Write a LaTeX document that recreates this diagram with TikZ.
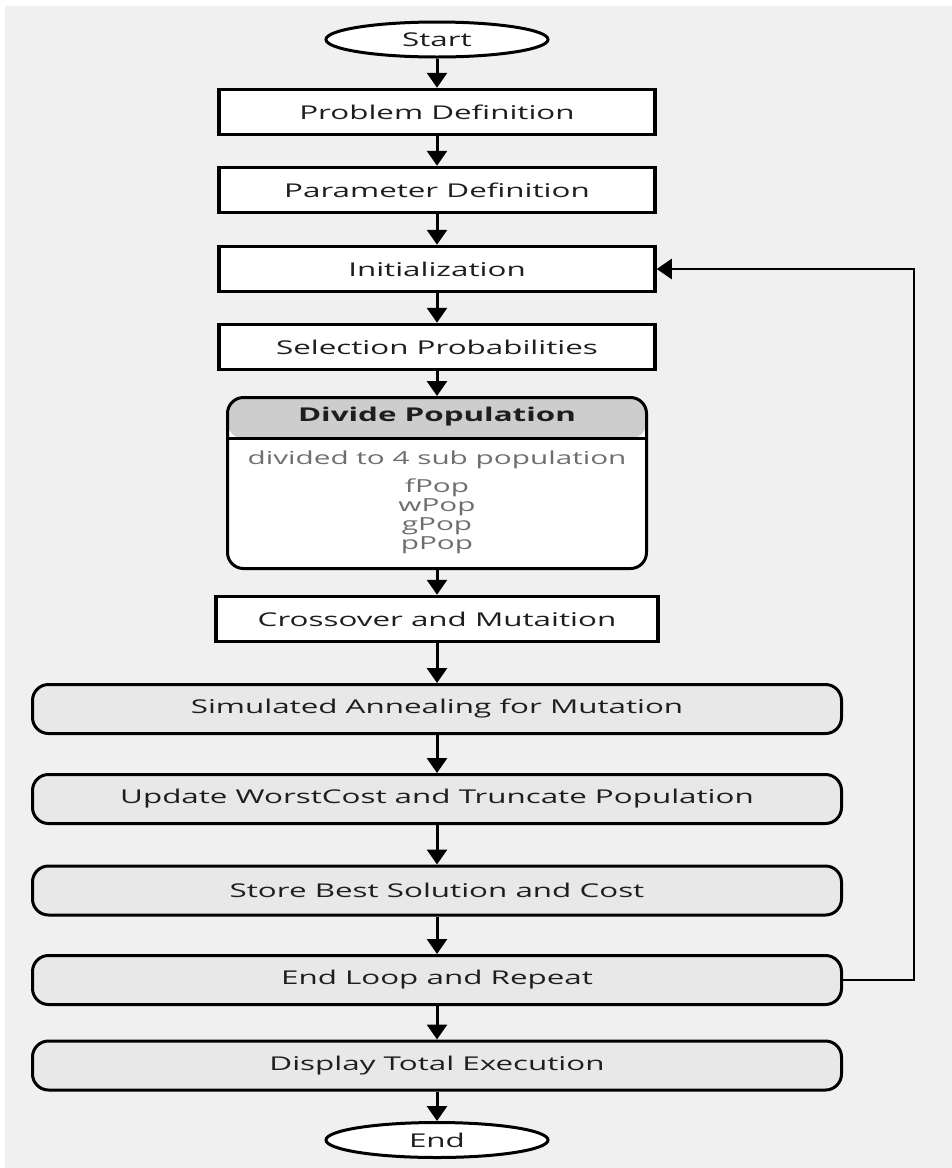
\documentclass[tikz,border=0pt]{standalone}
\usepackage{fontspec}
\setmainfont[FakeStretch=1.65]{Open Sans}
\usetikzlibrary{shapes.geometric, arrows.meta}
\definecolor{bggray}{HTML}{F0F0F0}
\definecolor{boxgray}{HTML}{E8E8E8}
\definecolor{headgray}{HTML}{CDCDCD}
\definecolor{txtgray}{HTML}{1E1E1E}
\definecolor{subgray}{HTML}{6E6E6E}
\tikzstyle{terminal} = [ellipse, minimum width = 222pt, minimum height = 35pt, text centered, draw = black, line width = 3pt, fill = white, text = txtgray, font = \fontsize{19}{21}\selectfont]
\tikzstyle{process} = [rectangle, minimum width = 436pt, minimum height = 45pt, text centered, draw = black, line width = 3.5pt, fill = white, text = txtgray, font = \fontsize{19}{21}\selectfont]
\tikzstyle{stage} = [rectangle, rounded corners = 16pt, minimum width = 809pt, minimum height = 49pt, text centered, draw = black, line width = 3pt, fill = boxgray, text = txtgray, font = \fontsize{19}{21}\selectfont]
\tikzstyle{popbox} = [rectangle, rounded corners = 16pt, minimum width = 419pt, minimum height = 171pt, draw = black, line width = 3pt, fill = white,
    path picture = {\fill[headgray] (path picture bounding box.north west) rectangle ([yshift = -41pt]path picture bounding box.north east);
        \draw[line width = 3pt] ([yshift = -41pt]path picture bounding box.north west) -- ([yshift = -41pt]path picture bounding box.north east);}]
\tikzstyle{arrow} = [line width = 3pt, -{Triangle[length = 15pt, width = 20pt]}]

\begin{document}
\begin{tikzpicture}[node distance = 78pt]
    \useasboundingbox (0,0) rectangle (952pt,-1168pt);
    \fill[bggray] (5pt,-6pt) rectangle (952pt,-1168pt);

    \node(start1)[terminal] at (437pt,-39.5pt){Start};
    \node(pr1)[process, below of = start1, yshift = 5.5pt]{Problem Definition};
    \node(pr2)[process, below of = pr1]{Parameter Definition};
    \node(pr3)[process, below of = pr2, yshift = -1pt]{Initialization};
    \node(pr4)[process, below of = pr3]{Selection Probabilities};
    \node(div1)[popbox, below of = pr4, yshift = -58pt]{};
    \node(title1)[text = txtgray, font = \fontsize{19}{21}\selectfont\bfseries] at ([yshift = -20.5pt]div1.north){Divide Population};
    \node(sub1)[text = subgray, font = \fontsize{18}{19}\selectfont] at ([yshift = -64pt]div1.north){divided to 4 sub population};
    \node(pop1)[below of = sub1, node distance = 56.5pt, align = center, text = subgray, font = \fontsize{18}{19}\selectfont]{fPop\\wPop\\gPop\\pPop};
    \node(pr5)[process, below of = div1, yshift = -58pt, minimum width = 442pt]{Crossover and Mutaition};
    \node(st1)[stage, below of = pr5, yshift = -12pt]{Simulated Annealing for Mutation};
    \node(st2)[stage, below of = st1, yshift = -12pt]{Update WorstCost and Truncate Population};
    \node(st3)[stage, below of = st2, yshift = -13.5pt]{Store Best Solution and Cost};
    \node(st4)[stage, below of = st3, yshift = -11.5pt]{End Loop and Repeat};
    \node(st5)[stage, below of = st4, yshift = -7.5pt]{Display Total Execution};
    \node(stop1)[terminal, below of = st5, yshift = 3.5pt]{End};

    \draw[arrow](start1)--(pr1);
    \draw[arrow](pr1)--(pr2);
    \draw[arrow](pr2)--(pr3);
    \draw[arrow](pr3)--(pr4);
    \draw[arrow](pr4)--(div1);
    \draw[arrow](div1)--(pr5);
    \draw[arrow](pr5)--(st1);
    \draw[arrow](st1)--(st2);
    \draw[arrow](st2)--(st3);
    \draw[arrow](st3)--(st4);
    \draw[arrow](st4)--(st5);
    \draw[arrow](st5)--(stop1);
    \draw[arrow, line width = 2.5pt](st4.east)--++(71pt,0)|-(pr3.east);
\end{tikzpicture}
\end{document}
